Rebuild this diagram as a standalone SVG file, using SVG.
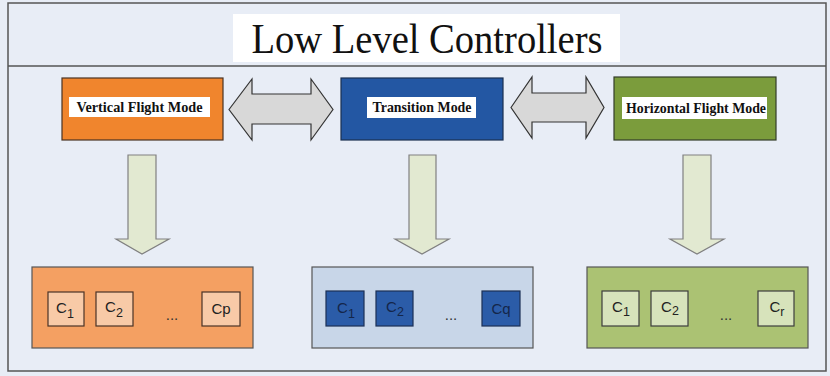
<svg xmlns="http://www.w3.org/2000/svg" width="830" height="376" viewBox="0 0 830 376">
  <style>
    .mode-label { font-family: "Liberation Serif", "Times New Roman", serif; font-weight: bold; font-size: 14.5px; fill: #111; text-anchor: middle; }
    .c-text { font-family: "Liberation Sans", Arial, sans-serif; font-size: 15px; fill: #222; text-anchor: middle; }
    .c-text-dark { font-family: "Liberation Sans", Arial, sans-serif; font-size: 15px; fill: #14264a; text-anchor: middle; }
    .sub { font-size: 12.5px; }
    .dots { font-family: "Liberation Sans", Arial, sans-serif; font-size: 15px; fill: #333; text-anchor: middle; }
    .dbl-arrow { fill: #d8d8d8; stroke: #333; stroke-width: 1.2; }
    .down-arrow { fill: #e2e9d1; stroke: #808080; stroke-width: 1.2; }
    .white-label { fill: #ffffff; }
  </style>

  <!-- frame -->
  <rect x="0" y="0" width="830" height="376" fill="#e8edf6"/>
  <rect x="8" y="3" width="818" height="368" fill="#e8edf6" stroke="#555" stroke-width="1.5"/>
  <line x1="8" y1="66" x2="826" y2="66" stroke="#555" stroke-width="1.5"/>

  <g id="title">
    <rect x="233" y="14" width="387" height="48" fill="#ffffff"/>
    <text x="427" y="53" font-family="Liberation Serif, 'Times New Roman', serif" font-size="43" fill="#111" text-anchor="middle" textLength="351" lengthAdjust="spacingAndGlyphs">Low Level Controllers</text>
  </g>

  <g id="vertical-mode">
    <rect x="62" y="78" width="161" height="62" fill="#f0852d" stroke="#4a3322" stroke-width="1.2"/>
    <rect class="white-label" x="69" y="97" width="141" height="20"/>
    <text class="mode-label" x="139.5" y="112" textLength="126" lengthAdjust="spacingAndGlyphs">Vertical Flight Mode</text>
  </g>

  <g id="transition-mode">
    <rect x="341" y="78" width="162" height="62" fill="#2357a3" stroke="#1a2f50" stroke-width="1.2"/>
    <rect class="white-label" x="367" y="97" width="109" height="21"/>
    <text class="mode-label" x="422" y="112" textLength="99" lengthAdjust="spacingAndGlyphs">Transition Mode</text>
  </g>

  <g id="horizontal-mode">
    <rect x="614" y="77" width="162" height="63" fill="#7b9c3c" stroke="#333d28" stroke-width="1.2"/>
    <rect class="white-label" x="622" y="97" width="145" height="22"/>
    <text class="mode-label" x="696" y="113" textLength="140" lengthAdjust="spacingAndGlyphs">Horizontal Flight Mode</text>
  </g>

  <g id="connectors">
    <!-- two-way links between modes -->
    <polygon class="dbl-arrow" points="229,109.5 252,79 252,94 311,94 311,79 333,109.5 311,140 311,124 252,124 252,140"/>
    <polygon class="dbl-arrow" points="511,107.5 532,77 532,93 586,93 586,77 604,107.5 586,138 586,122 532,122 532,138"/>
    <!-- downward links to controller sets -->
    <polygon class="down-arrow" points="128,155 156,155 156,239 169,239 142,254 116,239 128,239"/>
    <polygon class="down-arrow" points="409,155 436,155 436,239 449,239 422,254 395,239 409,239"/>
    <polygon class="down-arrow" points="683,155 711,155 711,239 724,239 697,254 670,239 683,239"/>
  </g>

  <g id="vertical-controllers">
    <rect x="32" y="267" width="221" height="81" fill="#f4a062" stroke="#555" stroke-width="1.2"/>
    <rect x="48" y="292" width="36" height="34" fill="#f8caa7" stroke="#4a3326" stroke-width="1.2"/>
    <text class="c-text" x="65" y="313">C<tspan class="sub" dy="5">1</tspan></text>
    <rect x="96" y="292" width="37" height="34" fill="#f8caa7" stroke="#4a3326" stroke-width="1.2"/>
    <text class="c-text" x="114" y="312">C<tspan class="sub" dy="5">2</tspan></text>
    <text class="dots" x="172" y="320">...</text>
    <rect x="202" y="292" width="38" height="34" fill="#f8caa7" stroke="#4a3326" stroke-width="1.2"/>
    <text class="c-text" x="221" y="314">Cp</text>
  </g>

  <g id="transition-controllers">
    <rect x="312" y="267" width="221" height="81" fill="#c8d6e8" stroke="#555" stroke-width="1.2"/>
    <rect x="326" y="291" width="38" height="35" fill="#2b5ca8" stroke="#1c2f55" stroke-width="1.2"/>
    <text class="c-text-dark" x="346" y="313">C<tspan class="sub" dy="5">1</tspan></text>
    <rect x="376" y="291" width="37" height="35" fill="#2b5ca8" stroke="#1c2f55" stroke-width="1.2"/>
    <text class="c-text-dark" x="395" y="312">C<tspan class="sub" dy="4">2</tspan></text>
    <text class="dots" x="451" y="320">...</text>
    <rect x="482" y="291" width="38" height="35" fill="#2b5ca8" stroke="#1c2f55" stroke-width="1.2"/>
    <text class="c-text-dark" x="501" y="314">Cq</text>
  </g>

  <g id="horizontal-controllers">
    <rect x="587" y="267" width="221" height="81" fill="#abc273" stroke="#555" stroke-width="1.2"/>
    <rect x="602" y="291" width="37" height="35" fill="#d7e3bb" stroke="#3d3d3d" stroke-width="1.2"/>
    <text class="c-text" x="621" y="312">C<tspan class="sub" dy="4">1</tspan></text>
    <rect x="651" y="291" width="37" height="35" fill="#d7e3bb" stroke="#3d3d3d" stroke-width="1.2"/>
    <text class="c-text" x="670" y="312">C<tspan class="sub" dy="3">2</tspan></text>
    <text class="dots" x="726" y="320">...</text>
    <rect x="758" y="291" width="36" height="35" fill="#d7e3bb" stroke="#3d3d3d" stroke-width="1.2"/>
    <text class="c-text" x="777" y="312">C<tspan class="sub" dy="4">r</tspan></text>
  </g>
</svg>
